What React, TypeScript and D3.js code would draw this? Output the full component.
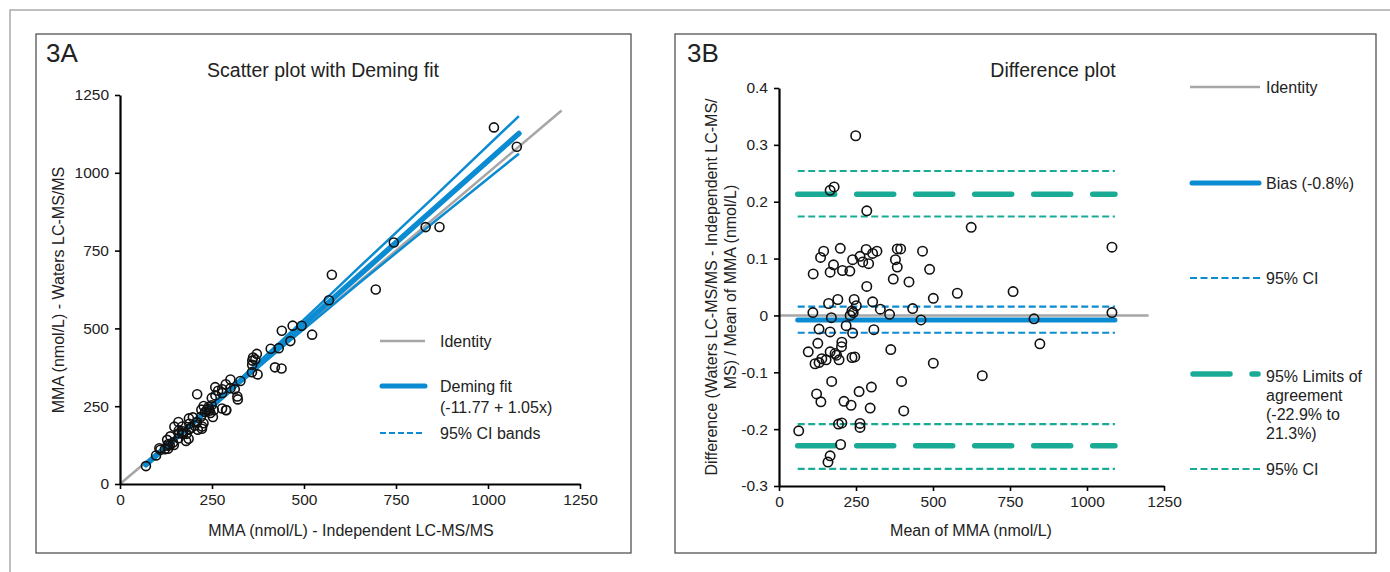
import React, { useEffect, useRef } from "react";
import * as d3 from "d3";

const meanMMA = [
  249, 166, 179, 285, 624, 145, 135, 199, 239, 177,
  111, 166, 206, 230, 263, 283, 272, 291, 304, 318,
  384, 395, 378, 384, 466, 489, 371, 422, 285, 579,
  501, 244, 191, 161, 251, 304, 329, 434, 110, 359,
  241, 170, 461, 231, 237, 130, 166, 218, 239, 308,
  126, 204, 203, 95, 166, 182, 187, 195, 363, 139,
  130, 117, 153, 237, 246, 501, 171, 122, 136, 260,
  300, 398, 211, 234, 296, 405, 64, 193, 204, 263,
  263, 200, 166, 159, 1081, 1081, 828, 847, 760, 660,
];
const relDiff = [
  0.316, 0.22, 0.226, 0.184, 0.155, 0.113, 0.102, 0.118, 0.098, 0.089,
  0.073, 0.076, 0.079, 0.078, 0.104, 0.116, 0.094, 0.091, 0.109, 0.113,
  0.117, 0.117, 0.098, 0.085, 0.113, 0.081, 0.064, 0.059, 0.051, 0.039,
  0.03, 0.028, 0.028, 0.021, 0.017, 0.024, 0.011, 0.012, 0.005, 0.002,
  0.005, -0.004, -0.008, 0.0, 0.008, -0.024, -0.029, -0.018, -0.031, -0.025,
  -0.049, -0.047, -0.055, -0.064, -0.064, -0.067, -0.07, -0.078, -0.06, -0.076,
  -0.083, -0.085, -0.078, -0.074, -0.073, -0.084, -0.116, -0.138, -0.152, -0.134,
  -0.126, -0.116, -0.151, -0.158, -0.163, -0.168, -0.203, -0.191, -0.189, -0.19,
  -0.197, -0.227, -0.247, -0.258, 0.12, 0.005, -0.006, -0.05, 0.042, -0.106,
];

const ticksA = [0, 250, 500, 750, 1000, 1250];
const xTicksB = [0, 250, 500, 750, 1000, 1250];
const yTicksB = [-0.3, -0.2, -0.1, 0, 0.1, 0.2, 0.3, 0.4];

// Deming fit (legend) and its 95% CI bands
const demingIntercept = -11.77;
const demingSlope = 1.05;
const fitRange = [70, 1084];
const ciBandX = [70, 250, 450, 650, 850, 1084];
const ciUpperY = [67.7, 254.7, 472.7, 696.7, 918.7, 1182.4];
const ciLowerY = [55.7, 246.7, 448.7, 645.7, 838.7, 1061.4];
const identityMax = 1200;

// difference plot lines
const bias = -0.008;
const biasCI = [0.0155, -0.0305];
const loa = [0.213, -0.229];
const loaCI = [0.254, 0.174, -0.191, -0.27];

const FONT = "'Liberation Sans', Arial, Helvetica, sans-serif";
const BLUE = "#0b8bd1";
const TEAL = "#1aab96";
const GRAY = "#a6a6a6";
const INK = "#222";

function styleAxis(g) {
  g.attr("font-family", FONT).attr("font-size", 15.5);
  g.select(".domain").attr("stroke", "#000").attr("stroke-width", 2.2);
  g.selectAll(".tick line").attr("stroke", "#000").attr("stroke-width", 1.6);
  g.selectAll(".tick text").attr("fill", INK);
}

function label(svg, txt, x, y, opts = {}) {
  const t = svg.append("text")
    .attr("font-family", FONT)
    .attr("font-size", opts.size || 16)
    .attr("fill", INK)
    .attr("text-anchor", opts.anchor || "start")
    .text(txt);
  if (opts.rotate) t.attr("transform", `translate(${x},${y}) rotate(-90)`);
  else t.attr("x", x).attr("y", y);
  return t;
}

function drawPanelA(svg) {
  const x = d3.scaleLinear().domain([0, 1250]).range([120, 580]);
  const y = d3.scaleLinear().domain([0, 1250]).range([484, 95]);

  // same pairs as panel B, back in x / y form
  const pts = meanMMA.map((m, i) => ({ x: m * (1 - relDiff[i] / 2), y: m * (1 + relDiff[i] / 2) }));

  svg.append("line")
    .attr("x1", x(0)).attr("y1", y(0)).attr("x2", x(identityMax)).attr("y2", y(identityMax))
    .attr("stroke", GRAY).attr("stroke-width", 2.5);

  const band = d3.line().curve(d3.curveMonotoneX).x(d => x(d[0])).y(d => y(d[1]));
  [ciUpperY, ciLowerY].forEach(ys => {
    svg.append("path")
      .attr("d", band(ciBandX.map((v, i) => [v, ys[i]])))
      .attr("fill", "none").attr("stroke", BLUE).attr("stroke-width", 2.5);
  });

  const fit = v => demingIntercept + demingSlope * v;
  svg.append("line")
    .attr("x1", x(fitRange[0])).attr("y1", y(fit(fitRange[0])))
    .attr("x2", x(fitRange[1])).attr("y2", y(fit(fitRange[1])))
    .attr("stroke", BLUE).attr("stroke-width", 5.5).attr("stroke-linecap", "round");

  svg.append("g").selectAll("circle").data(pts).enter().append("circle")
    .attr("cx", d => x(d.x)).attr("cy", d => y(d.y)).attr("r", 4.5)
    .attr("fill", "none").attr("stroke", "#111").attr("stroke-width", 1.6);

  svg.append("g").attr("transform", `translate(0,${y(0)})`)
    .call(d3.axisBottom(x).tickValues(ticksA).tickSize(5).tickSizeOuter(0).tickPadding(5)
      .tickFormat(d3.format("d")))
    .call(styleAxis);
  svg.append("g").attr("transform", `translate(${x(0)},0)`)
    .call(d3.axisLeft(y).tickValues(ticksA).tickSize(5).tickSizeOuter(0).tickPadding(6)
      .tickFormat(d3.format("d")))
    .call(styleAxis);

  label(svg, "3A", 46, 62, { size: 26 });
  label(svg, "Scatter plot with Deming fit", 323, 77, { size: 19.5, anchor: "middle" });
  label(svg, "MMA (nmol/L) - Independent LC-MS/MS", 351, 536, { anchor: "middle" });
  label(svg, "MMA (nmol/L) - Waters LC-MS/MS", 64, 290, { anchor: "middle", rotate: true });

  // legend
  svg.append("line").attr("x1", 380).attr("x2", 425).attr("y1", 341).attr("y2", 341)
    .attr("stroke", GRAY).attr("stroke-width", 2.5);
  label(svg, "Identity", 440, 347);
  svg.append("line").attr("x1", 382).attr("x2", 425).attr("y1", 386).attr("y2", 386)
    .attr("stroke", BLUE).attr("stroke-width", 5).attr("stroke-linecap", "round");
  label(svg, "Deming fit", 440, 392);
  label(svg, "(-11.77 + 1.05x)", 440, 413);
  svg.append("line").attr("x1", 380).attr("x2", 425).attr("y1", 433).attr("y2", 433)
    .attr("stroke", BLUE).attr("stroke-width", 2).attr("stroke-dasharray", "6 3");
  label(svg, "95% CI bands", 440, 439);
}

function drawPanelB(svg) {
  const x = d3.scaleLinear().domain([0, 1250]).range([779, 1164]);
  const y = d3.scaleLinear().domain([-0.3, 0.4]).range([486, 88]);
  const [m0, m1] = d3.extent(meanMMA);

  const hline = (v, color, width, dash, cap) => {
    svg.append("line")
      .attr("x1", x(m0) - 1).attr("x2", x(m1) + 3).attr("y1", y(v)).attr("y2", y(v))
      .attr("stroke", color).attr("stroke-width", width)
      .attr("stroke-dasharray", dash).attr("stroke-linecap", cap || "butt");
  };

  loaCI.forEach(v => hline(v, TEAL, 2.2, "7 3.5"));
  loa.forEach(v => hline(v, TEAL, 5.5, "37 22", "round"));
  biasCI.forEach(v => hline(v, BLUE, 2.2, "7 3.5"));

  svg.append("line")
    .attr("x1", x(0)).attr("x2", x(identityMax)).attr("y1", y(0)).attr("y2", y(0))
    .attr("stroke", GRAY).attr("stroke-width", 2.5);
  hline(bias, BLUE, 5, null, "round");

  svg.append("g").selectAll("circle").data(meanMMA).enter().append("circle")
    .attr("cx", d => x(d)).attr("cy", (d, i) => y(relDiff[i])).attr("r", 4.7)
    .attr("fill", "none").attr("stroke", "#111").attr("stroke-width", 1.6);

  svg.append("g").attr("transform", `translate(0,${y(-0.3)})`)
    .call(d3.axisBottom(x).tickValues(xTicksB).tickSize(5).tickSizeOuter(0).tickPadding(5)
      .tickFormat(d3.format("d")))
    .call(styleAxis);
  svg.append("g").attr("transform", `translate(${x(0)},0)`)
    .call(d3.axisLeft(y).tickValues(yTicksB).tickSize(5).tickSizeOuter(0).tickPadding(6)
      .tickFormat(d => (d === 0 ? "0" : d.toFixed(1))))
    .call(styleAxis);

  label(svg, "3B", 687, 62, { size: 26 });
  label(svg, "Difference plot", 1053, 77, { size: 19.5, anchor: "middle" });
  label(svg, "Mean of MMA (nmol/L)", 971, 536, { anchor: "middle" });
  label(svg, "Difference (Waters LC-MS/MS - Independent LC-MS/", 717, 287, { anchor: "middle", rotate: true });
  label(svg, "MS) / Mean of MMA (nmol/L)", 736, 287, { anchor: "middle", rotate: true });

  // legend
  const lx0 = 1190, lx1 = 1260, tx = 1266;
  svg.append("line").attr("x1", lx0).attr("x2", lx1).attr("y1", 87).attr("y2", 87)
    .attr("stroke", GRAY).attr("stroke-width", 2.5);
  label(svg, "Identity", tx, 93);
  svg.append("line").attr("x1", lx0 + 2).attr("x2", lx1 - 1).attr("y1", 183).attr("y2", 183)
    .attr("stroke", BLUE).attr("stroke-width", 5).attr("stroke-linecap", "round");
  label(svg, "Bias (-0.8%)", tx, 189);
  svg.append("line").attr("x1", lx0).attr("x2", lx1).attr("y1", 278).attr("y2", 278)
    .attr("stroke", BLUE).attr("stroke-width", 2.2).attr("stroke-dasharray", "7 3.5");
  label(svg, "95% CI", tx, 284);
  svg.append("line").attr("x1", lx0 + 3).attr("x2", lx1 - 2).attr("y1", 374).attr("y2", 374)
    .attr("stroke", TEAL).attr("stroke-width", 5.5).attr("stroke-dasharray", "37 22")
    .attr("stroke-linecap", "round");
  ["95% Limits of", "agreement", "(-22.9% to", "21.3%)"].forEach((s, i) =>
    label(svg, s, tx, 382 + i * 19));
  svg.append("line").attr("x1", lx0).attr("x2", lx1).attr("y1", 469).attr("y2", 469)
    .attr("stroke", TEAL).attr("stroke-width", 2.2).attr("stroke-dasharray", "7 3.5");
  label(svg, "95% CI", tx, 475);
}

export default function App() {
  const ref = useRef(null);

  useEffect(() => {
    const svg = d3.select(ref.current);
    svg.selectAll("*").remove();

    svg.append("rect").attr("width", 1390).attr("height", 572).attr("fill", "#fff");
    svg.append("path").attr("d", "M10,572 L10,10 L1390,10")
      .attr("fill", "none").attr("stroke", "#aaa").attr("stroke-width", 1.5);
    svg.append("rect").attr("x", 36).attr("y", 34).attr("width", 595).attr("height", 519)
      .attr("fill", "none").attr("stroke", "#444").attr("stroke-width", 1.2);
    svg.append("rect").attr("x", 675).attr("y", 34).attr("width", 701).attr("height", 519)
      .attr("fill", "none").attr("stroke", "#444").attr("stroke-width", 1.2);

    drawPanelA(svg);
    drawPanelB(svg);
  }, []);

  return (
    <svg ref={ref} width={1390} height={572}
      style={{ position: "absolute", left: 0, top: 0, display: "block" }} />
  );
}
